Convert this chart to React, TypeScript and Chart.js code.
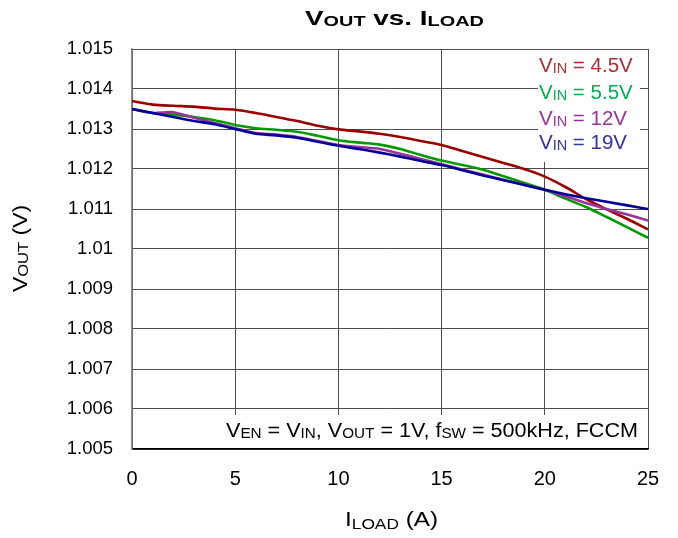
import React, { useEffect, useRef } from "react";
import { Chart, registerables } from "chart.js";
Chart.register(...registerables);

const loadCurrent = [0, 1, 2, 3, 4, 5, 6, 7, 8, 9, 10, 11, 12, 13, 14, 15, 16, 17, 18, 19, 20, 21, 22, 23, 24, 25];
const vin45 = [1.0137, 1.01361, 1.01358, 1.01356, 1.01351, 1.01348, 1.0134, 1.0133, 1.0132, 1.01308, 1.01299, 1.01294, 1.01288, 1.0128, 1.0127, 1.0126, 1.01245, 1.0123, 1.01215, 1.012, 1.01181, 1.01155, 1.01125, 1.01099, 1.01075, 1.01049];
const vin55 = [1.0135, 1.0134, 1.01336, 1.0133, 1.01322, 1.0131, 1.01302, 1.01298, 1.01293, 1.01283, 1.01272, 1.01266, 1.01261, 1.0125, 1.01235, 1.01221, 1.0121, 1.01198, 1.01182, 1.01165, 1.01148, 1.01126, 1.01105, 1.0108, 1.01054, 1.01028];
const vin12 = [1.0135, 1.0134, 1.01342, 1.01328, 1.01315, 1.01302, 1.0129, 1.01286, 1.0128, 1.0127, 1.0126, 1.01255, 1.0125, 1.01238, 1.01225, 1.01212, 1.01199, 1.01186, 1.01173, 1.01161, 1.01148, 1.01132, 1.01115, 1.011, 1.01086, 1.01071];
const vin19 = [1.0135, 1.0134, 1.0133, 1.0132, 1.01312, 1.013, 1.01288, 1.01284, 1.01278, 1.01268, 1.01258, 1.0125, 1.01241, 1.01231, 1.0122, 1.0121, 1.01197, 1.01184, 1.01172, 1.0116, 1.01148, 1.01137, 1.01127, 1.01118, 1.01109, 1.011];
const seriesNames = ["4.5V", "5.5V", "12V", "19V"];
const lineColors = ["#990000", "#009900", "#993399", "#000099"];
const textColors = ["#a33333", "#00b050", "#993399", "#333399"];
const xTicks = [0, 5, 10, 15, 20, 25];
const yTicks = [1.005, 1.006, 1.007, 1.008, 1.009, 1.01, 1.011, 1.012, 1.013, 1.014, 1.015];
const yTickLabels = ["1.005", "1.006", "1.007", "1.008", "1.009", "1.01", "1.011", "1.012", "1.013", "1.014", "1.015"];

const FONT = '"Liberation Sans", Arial, sans-serif';
type Part = { t: string; sub?: boolean };

function drawRich(
  ctx: CanvasRenderingContext2D,
  parts: Part[],
  x: number,
  baseline: number,
  size: number,
  subSize: number,
  subDrop: number,
  color: string,
  bold: boolean,
  targetWidth?: number
) {
  const f = (s: number) => `${bold ? "bold " : ""}${s}px ${FONT}`;
  let w = 0;
  for (const p of parts) {
    ctx.font = f(p.sub ? subSize : size);
    w += ctx.measureText(p.t).width;
  }
  const sx = targetWidth ? targetWidth / w : 1;
  ctx.save();
  ctx.translate(x, baseline);
  ctx.scale(sx, 1);
  ctx.fillStyle = color;
  ctx.textAlign = "left";
  ctx.textBaseline = "alphabetic";
  let cx = 0;
  for (const p of parts) {
    ctx.font = f(p.sub ? subSize : size);
    ctx.fillText(p.t, cx, p.sub ? subDrop : 0);
    cx += ctx.measureText(p.t).width;
  }
  ctx.restore();
}

const textPlugin = {
  id: "richText",
  afterDatasetsDraw(chart: any) {
    const ctx: CanvasRenderingContext2D = chart.ctx;
    ctx.save();
    ctx.fillStyle = "#ffffff";
    ctx.fillRect(538, 50, 102, 112);
    ctx.fillRect(220, 415, 427, 33);
    ctx.restore();
    const baselines = [72, 98.5, 124.5, 149];
    seriesNames.forEach((n, i) => {
      drawRich(ctx, [{ t: "V" }, { t: "IN", sub: true }, { t: " = " + n }], 539, baselines[i], 20.5, 14.5, 1, textColors[i], false);
    });
    drawRich(
      ctx,
      [
        { t: "V" }, { t: "EN", sub: true }, { t: " = V" }, { t: "IN", sub: true },
        { t: ", V" }, { t: "OUT", sub: true }, { t: " = 1V, f" }, { t: "SW", sub: true },
        { t: " = 500kHz, FCCM" },
      ],
      226, 436.5, 20.5, 14.5, 1, "#000000", false, 412
    );
  },
  afterDraw(chart: any) {
    const ctx: CanvasRenderingContext2D = chart.ctx;
    drawRich(ctx, [{ t: "V" }, { t: "OUT", sub: true }, { t: " vs. I" }, { t: "LOAD", sub: true }], 305, 25, 21, 15, 1, "#000000", true, 179);
    drawRich(ctx, [{ t: "I" }, { t: "LOAD", sub: true }, { t: " (A)" }], 345, 525.5, 21, 15, 3, "#000000", false, 93);
    ctx.save();
    ctx.translate(27, 292);
    ctx.rotate(-Math.PI / 2);
    drawRich(ctx, [{ t: "V" }, { t: "OUT", sub: true }, { t: " (V)" }], 0, 0, 20, 14.5, 1, "#000000", false, 87);
    ctx.restore();
  },
};

export default function App() {
  const ref = useRef<HTMLCanvasElement | null>(null);
  useEffect(() => {
    document.body.style.margin = "0";
    const canvas = ref.current!;
    const series = [vin45, vin55, vin12, vin19];
    const chart = new Chart(canvas, {
      type: "line",
      data: {
        labels: loadCurrent,
        datasets: series.map((s, i) => ({
          label: "VIN = " + seriesNames[i],
          data: s.map((v, j) => ({ x: loadCurrent[j], y: v })),
          borderColor: lineColors[i],
          backgroundColor: lineColors[i],
          borderWidth: 2.6,
          pointRadius: 0,
          tension: 0.3,
          fill: false,
          order: 3 - i,
        })),
      },
      options: {
        animation: false,
        responsive: false,
        devicePixelRatio: 1,
        layout: { padding: { top: 49, right: 30, left: 0, bottom: 0 } },
        plugins: { legend: { display: false }, title: { display: false }, tooltip: { enabled: false } },
        scales: {
          x: {
            type: "linear",
            min: 0,
            max: 25,
            afterFit: (s: any) => { s.height = 89; },
            afterBuildTicks: (s: any) => { s.ticks = xTicks.map((v) => ({ value: v })); },
            ticks: { color: "#000", font: { family: FONT, size: 20 }, padding: 18, maxRotation: 0, autoSkip: false },
            grid: { color: "#4d4d4d", lineWidth: 1, drawTicks: false },
            border: { display: true, color: "#000000", width: 1.5 },
          },
          y: {
            type: "linear",
            min: 1.005,
            max: 1.015,
            afterFit: (s: any) => { s.width = 132; },
            afterBuildTicks: (s: any) => { s.ticks = yTicks.map((v) => ({ value: v })); },
            ticks: {
              color: "#000",
              font: { family: FONT, size: 18.5 },
              padding: 19,
              autoSkip: false,
              callback: (_v: any, i: number) => yTickLabels[i],
            },
            grid: { color: "#4d4d4d", lineWidth: 1, drawTicks: false },
            border: { display: true, color: "#8c8c8c", width: 1.5 },
          },
        },
      },
      plugins: [textPlugin],
    } as any);
    return () => chart.destroy();
  }, []);
  return (
    <div style={{ position: "absolute", left: 0, top: 0 }}>
      <canvas ref={ref} width={678} height={538} style={{ width: 678, height: 538, display: "block" }} />
    </div>
  );
}
